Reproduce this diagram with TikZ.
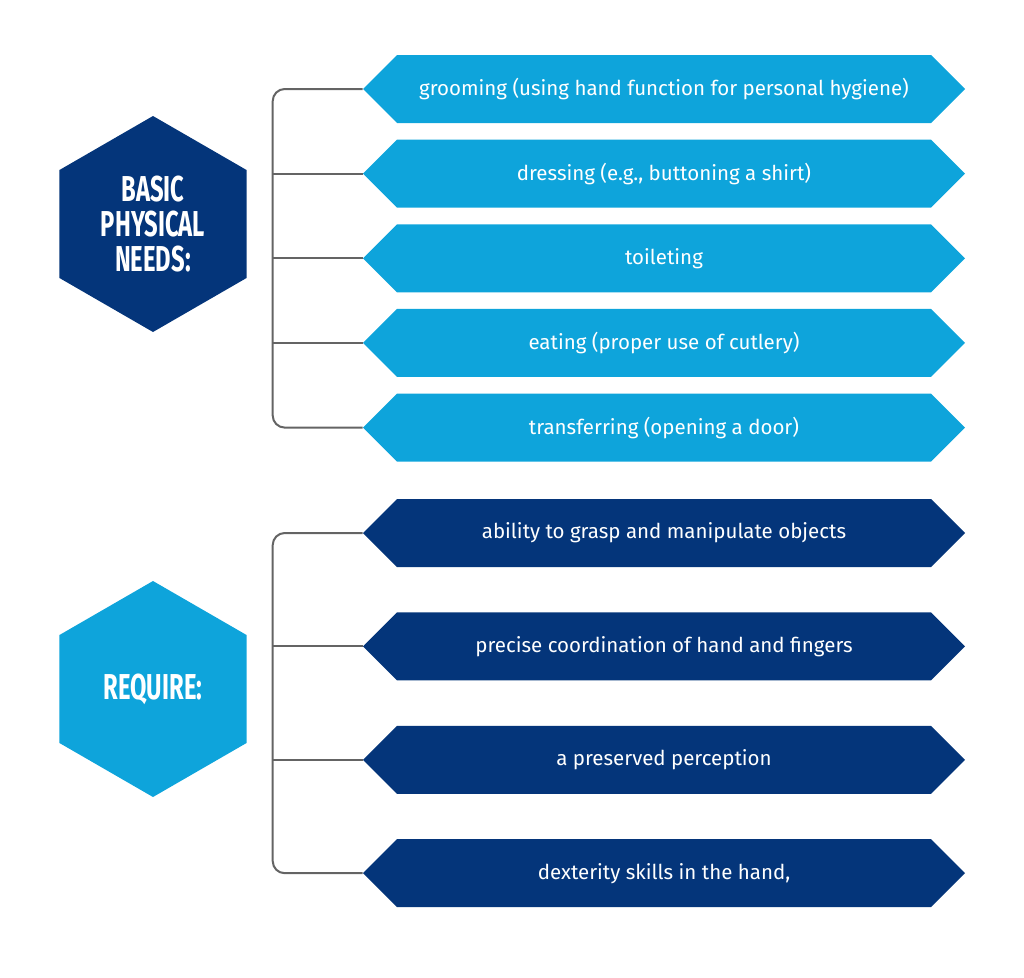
\documentclass[tikz,border=0pt]{standalone}
\usepackage{fontspec}
\setmainfont{Fira Sans}
\usetikzlibrary{positioning,shapes.geometric,shapes.symbols}
\definecolor{lightblue}{RGB}{14,164,219}
\definecolor{darkblue}{RGB}{4,53,122}
\definecolor{linegrey}{RGB}{100,100,100}
\newcommand{\hexline}[1]{\scalebox{0.66}[1]{#1}}

\begin{document}
\begin{tikzpicture}[x=1pt,y=-1pt,
  banner/.style={signal, signal to=west and east, signal pointer angle=90,
    minimum width=602pt, minimum height=68pt, inner sep=0pt,
    text=white, font=\fontsize{20.5}{24}\selectfont},
  light/.style={fill=lightblue},
  dark/.style={fill=darkblue},
  hexa/.style={regular polygon, regular polygon sides=6, shape border rotate=30,
    minimum size=216pt, inner sep=0pt, text=white, align=center,
    font=\fontsize{36}{35}\selectfont\bfseries},
  bracket/.style={draw=linegrey, line width=2pt, rounded corners=12pt}]

\useasboundingbox (0,0) rectangle (1024,977);

% hexagons
\node[hexa, dark] (needs) at (153,224)
  {\hexline{BASIC}\\\hexline{PHYSICAL}\\\hexline{NEEDS:}};
\node[hexa, light] (require) at (153,689) {\hexline{REQUIRE:}};

% activities
\node[banner, light] (b1) at (664,89) {grooming (using hand function for personal hygiene)};
\node[banner, light, below=16.25pt of b1] (b2) {dressing (e.g., buttoning a shirt)};
\node[banner, light, below=16.25pt of b2] (b3) {toileting};
\node[banner, light, below=16.25pt of b3] (b4) {eating (proper use of cutlery)};
\node[banner, light, below=16.25pt of b4] (b5) {transferring (opening a door)};

% requirements
\node[banner, dark] (r1) at (664,533) {ability to grasp and manipulate objects};
\node[banner, dark, below=45pt of r1] (r2) {precise coordination of hand and fingers};
\node[banner, dark, below=45pt of r2] (r3) {a preserved perception};
\node[banner, dark, below=45pt of r3] (r4) {dexterity skills in the hand,};

% brackets
\coordinate (spine1) at ([xshift=-90pt]b1.west);
\coordinate (spine2) at ([xshift=-90pt]r1.west);
\draw[bracket] (b1.west) -| (spine1 |- b5.west) -- (b5.west);
\foreach \n in {2,3,4}
  \draw[bracket] (b\n.west) -- (spine1 |- b\n.west);
\draw[bracket] (r1.west) -| (spine2 |- r4.west) -- (r4.west);
\foreach \n in {2,3}
  \draw[bracket] (r\n.west) -- (spine2 |- r\n.west);
\end{tikzpicture}
\end{document}
